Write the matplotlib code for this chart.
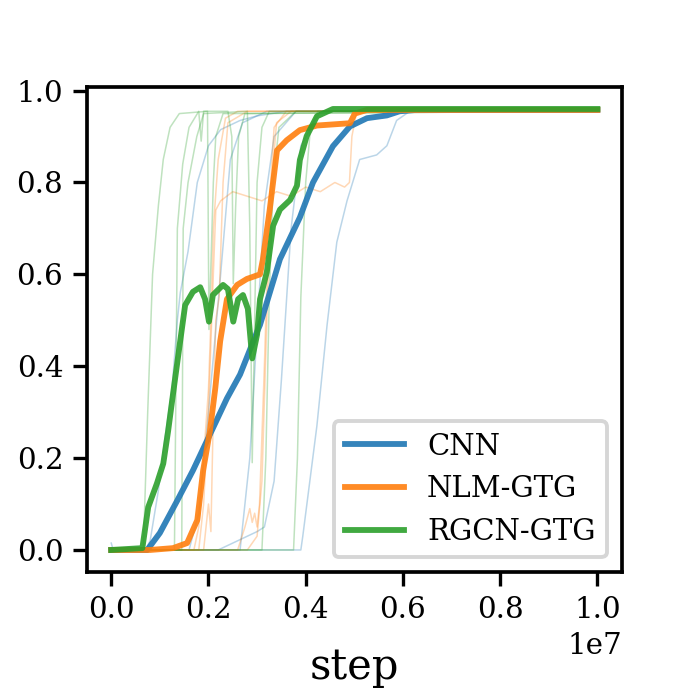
import numpy as np
import matplotlib as mpl
mpl.use('Agg')
import matplotlib.pyplot as plt

plt.rcParams['font.family'] = 'serif'
plt.rcParams['font.serif'] = ['DejaVu Serif']

# mean curves (step in units of 1e7)
cnn_step = [0, 0.074, 0.10, 0.136, 0.168, 0.197, 0.238, 0.265, 0.300, 0.306, 0.347, 0.388,
            0.415, 0.456, 0.491, 0.526, 0.567, 0.593, 0.628, 1.0]
cnn_mean = [0, 0, 0.037, 0.108, 0.173, 0.238, 0.330, 0.382, 0.475, 0.490, 0.633, 0.724,
            0.80, 0.879, 0.922, 0.940, 0.946, 0.955, 0.958, 0.958]

nlm_step = [0, 0.08, 0.127, 0.156, 0.177, 0.189, 0.203, 0.214, 0.224, 0.238, 0.259, 0.279,
            0.306, 0.312, 0.326, 0.341, 0.361, 0.388, 0.423, 0.491, 0.501, 0.526, 1.0]
nlm_mean = [0, 0, 0.004, 0.015, 0.065, 0.173, 0.259, 0.352, 0.454, 0.546, 0.577, 0.590,
            0.600, 0.633, 0.741, 0.870, 0.892, 0.914, 0.924, 0.929, 0.950, 0.958, 0.958]

rgcn_step = [0, 0.064, 0.076, 0.094, 0.107, 0.117, 0.127, 0.138, 0.152, 0.168, 0.183, 0.193,
             0.201, 0.209, 0.230, 0.240, 0.251, 0.261, 0.271, 0.281, 0.290, 0.300, 0.306,
             0.320, 0.333, 0.347, 0.368, 0.382, 0.388, 0.402, 0.423, 0.456, 1.0]
rgcn_mean = [0, 0.004, 0.093, 0.145, 0.188, 0.259, 0.339, 0.425, 0.533, 0.562, 0.572, 0.546,
             0.497, 0.555, 0.577, 0.568, 0.497, 0.546, 0.555, 0.525, 0.417, 0.469, 0.546,
             0.605, 0.706, 0.741, 0.762, 0.793, 0.849, 0.901, 0.944, 0.960, 0.960]

# single runs, CNN
c1_step = [0, 0.004, 0.07, 0.08, 0.097, 0.11, 0.125, 0.136, 0.142, 0.158, 0.177, 0.20, 0.225,
           0.265, 0.30, 0.36, 1.0]
c1_val = [0.015, 0, 0, 0.02, 0.13, 0.24, 0.35, 0.50, 0.56, 0.65, 0.80, 0.88, 0.915, 0.935,
          0.945, 0.955, 0.955]
c2_step = [0, 0.16, 0.18, 0.2, 0.225, 0.245, 0.27, 0.32, 1.0]
c2_val = [0, 0, 0.08, 0.3, 0.6, 0.85, 0.93, 0.955, 0.955]
c3_step = [0, 0.265, 0.285, 0.30, 0.315, 0.335, 0.38, 1.0]
c3_val = [0, 0, 0.2, 0.48, 0.75, 0.9, 0.955, 0.955]
c4_step = [0, 0.22, 0.26, 0.30, 0.315, 0.335, 0.35, 0.37, 0.39, 0.43, 1.0]
c4_val = [0, 0, 0.02, 0.04, 0.05, 0.15, 0.37, 0.7, 0.88, 0.955, 0.955]
c5_step = [0, 0.39, 0.394, 0.423, 0.444, 0.464, 0.485, 0.511, 0.546, 0.567, 0.587, 0.614, 1.0]
c5_val = [0, 0, 0.03, 0.27, 0.49, 0.67, 0.76, 0.85, 0.86, 0.88, 0.935, 0.955, 0.955]

# single runs, NLM-GTG
n1_step = [0, 0.17, 0.18, 0.19, 0.2, 0.205, 0.21, 0.22, 0.235, 0.26, 1.0]
n1_val = [0, 0, 0.05, 0.2, 0.35, 0.5, 0.7, 0.85, 0.94, 0.955, 0.955]
n2_step = [0, 0.18, 0.19, 0.2, 0.205, 0.21, 0.215, 0.225, 0.25, 0.28, 0.31, 0.34, 0.37, 0.40,
           0.43, 0.46, 0.48, 0.49, 0.495, 0.505, 1.0]
n2_val = [0, 0, 0.1, 0.3, 0.45, 0.6, 0.74, 0.76, 0.78, 0.77, 0.76, 0.78, 0.77, 0.79, 0.78,
          0.80, 0.79, 0.80, 0.9, 0.955, 0.955]
n3_step = [0, 0.19, 0.2, 0.205, 0.21, 0.215, 0.222, 0.23, 0.24, 0.28, 1.0]
n3_val = [0, 0, 0.1, 0.04, 0.3, 0.5, 0.55, 0.8, 0.93, 0.955, 0.955]
n4_step = [0, 0.26, 0.275, 0.285, 0.29, 0.295, 0.30, 0.305, 0.315, 0.325, 0.335, 0.36, 1.0]
n4_val = [0, 0, 0.05, 0.09, 0.06, 0.08, 0.05, 0.1, 0.4, 0.75, 0.92, 0.955, 0.955]
n5_step = [0, 0.28, 0.3, 0.31, 0.32, 0.33, 0.34, 0.37, 1.0]
n5_val = [0, 0, 0.03, 0.15, 0.5, 0.8, 0.93, 0.955, 0.955]

# single runs, RGCN-GTG
r1_step = [0, 0.066, 0.075, 0.085, 0.097, 0.107, 0.121, 0.14, 0.198, 0.201, 0.205, 0.21,
           0.215, 0.23, 1.0]
r1_val = [0, 0, 0.3, 0.6, 0.75, 0.85, 0.92, 0.95, 0.955, 0.48, 0.62, 0.8, 0.9, 0.95, 0.955]
r2_step = [0, 0.13, 0.136, 0.147, 0.16, 0.18, 0.185, 0.19, 0.24, 0.248, 0.251, 0.256, 0.262,
           0.275, 1.0]
r2_val = [0, 0, 0.7, 0.84, 0.92, 0.955, 0.89, 0.955, 0.955, 0.9, 0.58, 0.75, 0.9, 0.95, 0.955]
r3_step = [0, 0.145, 0.148, 0.158, 0.176, 0.19, 0.28, 0.285, 0.29, 0.295, 0.30, 0.31, 0.325, 1.0]
r3_val = [0, 0, 0.7, 0.8, 0.9, 0.95, 0.955, 0.7, 0.19, 0.5, 0.8, 0.92, 0.955, 0.955]
r4_step = [0, 0.31, 0.318, 0.325, 0.333, 0.345, 0.38, 1.0]
r4_val = [0, 0, 0.2, 0.55, 0.8, 0.92, 0.955, 0.955]
r5_step = [0, 0.375, 0.383, 0.39, 0.4, 0.41, 0.425, 1.0]
r5_val = [0, 0, 0.2, 0.55, 0.8, 0.92, 0.955, 0.955]

labels = ['CNN', 'NLM-GTG', 'RGCN-GTG']
colors = ['#1f77b4', '#ff7f0e', '#2ca02c']
means = [(cnn_step, cnn_mean), (nlm_step, nlm_mean), (rgcn_step, rgcn_mean)]
runs = [
    [(c1_step, c1_val), (c2_step, c2_val), (c3_step, c3_val), (c4_step, c4_val), (c5_step, c5_val)],
    [(n1_step, n1_val), (n2_step, n2_val), (n3_step, n3_val), (n4_step, n4_val), (n5_step, n5_val)],
    [(r1_step, r1_val), (r2_step, r2_val), (r3_step, r3_val), (r4_step, r4_val), (r5_step, r5_val)],
]

fig = plt.figure(figsize=(3.45, 3.45), dpi=200)
ax = fig.add_axes([0.126, 0.171, 0.775, 0.703])

# thin lines for each seed
for col, group in zip(colors, runs):
    for xs, ys in group:
        ax.plot(np.array(xs) * 1e7, ys, color=col, alpha=0.3, lw=0.55)

# averaged curves on top
for lab, col, (xs, ys) in zip(labels, colors, means):
    ax.plot(np.array(xs) * 1e7, ys, color=col, alpha=0.9, lw=2.1, label=lab)

ax.set_xlabel('step', fontsize=15, labelpad=8)
ax.set_xticks([0, 0.2e7, 0.4e7, 0.6e7, 0.8e7, 1.0e7])
ax.set_yticks([0, 0.2, 0.4, 0.6, 0.8, 1.0])
ax.tick_params(labelsize=10.6, length=5, width=1.2)
ax.xaxis.get_offset_text().set_fontsize(10.6)
for sp in ax.spines.values():
    sp.set_linewidth(1.33)

leg = ax.legend(loc='lower right', fontsize=10.5)
leg.get_frame().set_linewidth(1.4)

fig.savefig('out.png', dpi=200)
